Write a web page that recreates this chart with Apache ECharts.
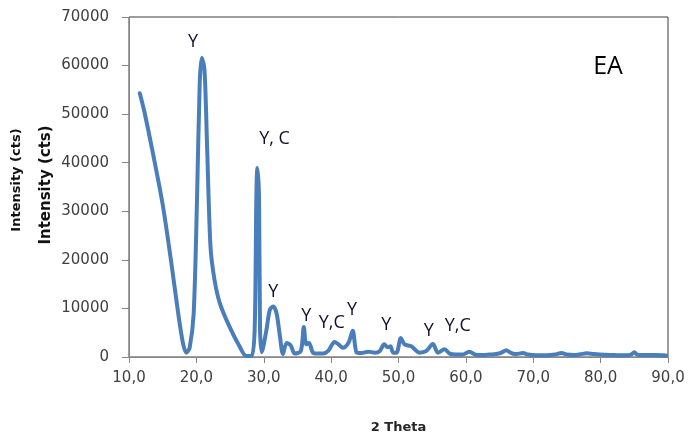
<!DOCTYPE html>
<html>
<head>
<meta charset="utf-8">
<script src="https://cdn.jsdelivr.net/npm/echarts@6/dist/echarts.min.js"></script>
<style>
  html, body { margin: 0; padding: 0; background: #ffffff; }
  #chart { width: 689px; height: 439px; }
</style>
</head>
<body>
<div id="chart"></div>
<script>
// X-ray diffraction pattern of sample EA: diffraction angle (2 Theta) vs. intensity (cts)
var twoTheta = [
  11.6, 12.3, 13.6, 15.0, 16.3, 17.3, 18.0, 18.5, 19.0, 19.6, 20.1, 20.5, 20.8,
  21.2, 21.6, 22.1, 22.7, 23.5, 24.9, 26.4, 27.4, 28.2, 28.65, 28.9, 29.05,
  29.3, 29.45, 29.7, 30.4, 30.9, 31.4, 31.9, 32.4, 32.85, 33.4, 34.0, 34.6,
  35.5, 35.95, 36.3, 36.7, 37.3, 38.0, 38.8, 39.6, 40.5, 41.1, 41.75, 42.6,
  43.2, 43.8, 44.5, 45.5, 46.5, 47.2, 47.9, 48.4, 48.8, 49.2, 49.7, 50.35,
  50.9, 51.9, 53.1, 54.1, 55.1, 55.85, 56.85, 57.6, 58.5, 59.5, 60.5, 61.5,
  62.5, 63.5, 64.5, 65.3, 66.0, 66.6, 67.3, 68.5, 69.2, 70.5, 72.0, 73.2,
  74.2, 75.0, 76.0, 77.0, 77.9, 79.0, 80.5, 82.0, 83.5, 84.5, 85.0, 85.4,
  86.5, 88.0, 89.7
];
var intensity = [
  54300, 50400, 41600, 31400, 19200, 9000, 2900, 900, 1900, 9000, 32800, 56500, 61600,
  59200, 42900, 22600, 15800, 11000, 6300, 2200, 200, 200, 5600, 32800, 38900,
  32800, 5600, 1000, 5600, 9700, 10400, 9000, 4300, 600, 2900, 2400, 700,
  1200, 6200, 2600, 2900, 900, 700, 700, 1300, 3100, 2600, 1900, 3000,
  5400, 900, 800, 1100, 900, 1200, 2600, 2000, 2200, 900, 900, 3900,
  2600, 2200, 900, 1200, 2700, 900, 1600, 700, 500, 500, 1100, 450,
  400, 500, 600, 900, 1400, 900, 600, 800, 500, 350, 350, 500,
  800, 500, 400, 550, 750, 600, 450, 400, 350, 500, 1000, 500,
  400, 400, 300
];

// Phase annotations above the reflections (Y, C)
var labelTheta = [19.5, 31.6, 31.4, 36.3, 40.1, 43.1, 48.2, 54.5, 58.8];
var labelIntensity = [64800, 45000, 13400, 8500, 7000, 9700, 6650, 5300, 6450];
var labelText = ['Y', 'Y, C', 'Y', 'Y', 'Y,C', 'Y', 'Y', 'Y', 'Y,C'];

// Axis ranges and steps
var xMin = 10, xMax = 90, xStep = 10;
var yMin = 0, yMax = 70000, yStep = 10000;

var lineData = twoTheta.map(function (t, i) { return [t, intensity[i]]; });

var chart = echarts.init(document.getElementById('chart'), null, { renderer: 'canvas' });

var axisTextColor = '#404040';
var axisGray = '#868686';

var fixedGraphics = [
  {
    type: 'text',
    x: 17, y: 180,
    rotation: Math.PI / 2,
    style: {
      text: 'Intensity (cts)',
      fontFamily: 'DejaVu Sans', fontWeight: 'bold', fontSize: 13,
      fill: '#111111',
      textAlign: 'center', textVerticalAlign: 'middle'
    }
  },
  {
    type: 'text',
    x: 46, y: 185,
    rotation: Math.PI / 2,
    style: {
      text: 'Intensity (cts)',
      fontFamily: 'DejaVu Sans', fontWeight: 'bold', fontSize: 15,
      fill: '#111111',
      textAlign: 'center', textVerticalAlign: 'middle'
    }
  },
  {
    type: 'text',
    x: 608, y: 67,
    style: {
      text: 'EA',
      fontFamily: 'Open Sans', fontSize: 25,
      fill: '#000000',
      textAlign: 'center', textVerticalAlign: 'middle'
    }
  }
];

chart.setOption({
  animation: false,
  backgroundColor: '#ffffff',
  grid: {
    left: 129, right: 21, top: 17, bottom: 78,
    show: true,
    borderColor: '#3c3c3c',
    borderWidth: 1,
    backgroundColor: 'transparent'
  },
  xAxis: {
    type: 'value',
    min: xMin, max: xMax, interval: xStep,
    name: '2 Theta',
    nameLocation: 'middle',
    nameGap: 64,
    nameTextStyle: { fontFamily: 'DejaVu Sans', fontWeight: 'bold', fontSize: 13, color: '#262626' },
    axisLine: { show: true, onZero: false, lineStyle: { color: axisGray, width: 1 } },
    axisTick: { show: true, inside: false, length: 6, lineStyle: { color: axisGray } },
    axisLabel: {
      margin: 14,
      fontFamily: 'DejaVu Sans', fontSize: 15, color: axisTextColor,
      formatter: function (v) { return v.toFixed(1).replace('.', ','); }
    },
    splitLine: { show: false }
  },
  yAxis: {
    type: 'value',
    min: yMin, max: yMax, interval: yStep,
    axisLine: { show: true, lineStyle: { color: axisGray, width: 1 } },
    axisTick: { show: true, inside: false, length: 7, lineStyle: { color: axisGray } },
    axisLabel: {
      margin: 20,
      fontFamily: 'DejaVu Sans', fontSize: 15, color: axisTextColor,
      formatter: function (v) { return String(v); }
    },
    splitLine: { show: false }
  },
  series: [
    {
      type: 'line',
      data: lineData,
      smooth: 0.3,
      showSymbol: false,
      symbol: 'none',
      lineStyle: { color: '#4a7ebb', width: 4, join: 'round', cap: 'round' },
      z: 3
    }
  ],
  graphic: fixedGraphics
});

// Phase labels placed at their data positions through the grid's scales
var phaseLabels = labelTheta.map(function (t, i) {
  var p = chart.convertToPixel({ gridIndex: 0 }, [t, labelIntensity[i]]);
  return {
    type: 'text',
    x: p[0], y: p[1],
    z: 10,
    style: {
      text: labelText[i],
      fontFamily: 'Open Sans', fontSize: 18,
      fill: '#10102a',
      textAlign: 'center', textVerticalAlign: 'middle'
    }
  };
});

chart.setOption({ graphic: fixedGraphics.concat(phaseLabels) });
</script>
</body>
</html>
